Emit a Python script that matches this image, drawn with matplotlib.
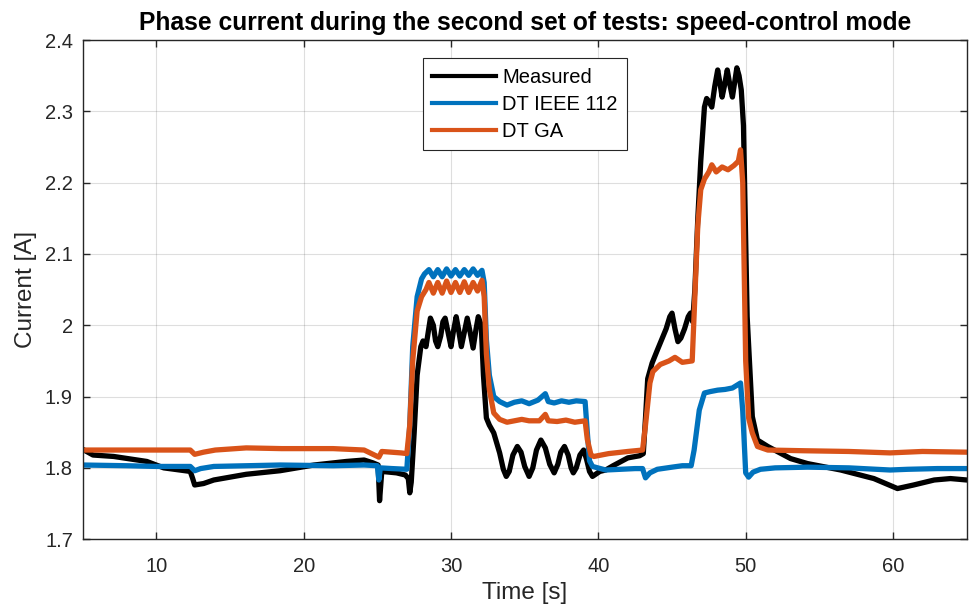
import matplotlib
matplotlib.use("Agg")
import matplotlib.pyplot as plt

# ---------------- data ----------------
meas_t = [5.0, 5.7, 7.1, 9.35, 10.5, 12.3, 12.45, 12.6, 13.2, 13.9, 16.1, 18.4,
          20.7, 22.9, 24.1, 24.7, 25.05, 25.15, 25.3, 26.3, 26.9, 27.1, 27.2,
          27.3, 27.5, 27.7, 27.95, 28.1, 28.3, 28.45, 28.6, 28.8, 28.95, 29.1,
          29.3, 29.45, 29.6, 29.8, 30.0, 30.15, 30.35, 30.5, 30.7, 30.9, 31.1,
          31.3, 31.5, 31.7, 31.85, 32.05, 32.2, 32.4, 32.6, 32.9, 33.3, 33.55,
          33.75, 33.95, 34.2, 34.5, 34.75, 35.0, 35.3, 35.55, 35.8, 36.1, 36.4,
          36.7, 37.0, 37.25, 37.45, 37.7, 37.95, 38.15, 38.3, 38.5, 38.75, 39.0,
          39.2, 39.4, 39.6, 40.1, 40.5, 41.0, 42.0, 42.8, 43.05, 43.2, 43.35,
          43.65, 44.0, 44.3, 44.6, 44.85, 45.0, 45.2, 45.4, 45.6, 45.85, 46.1,
          46.25, 46.4, 46.55, 46.75, 46.95, 47.2, 47.35, 47.5, 47.7, 47.9, 48.1,
          48.25, 48.4, 48.55, 48.75, 48.9, 49.1, 49.25, 49.4, 49.55, 49.7, 49.85,
          50.1, 50.45, 50.8, 51.5, 53.05, 54.2, 56.45, 58.7, 60.3, 61.4, 62.8,
          63.9, 65.0]
meas_i = [1.826, 1.818, 1.816, 1.809, 1.800, 1.795, 1.786, 1.776, 1.778, 1.783,
          1.791, 1.796, 1.804, 1.809, 1.811, 1.807, 1.804, 1.754, 1.795, 1.793,
          1.790, 1.785, 1.765, 1.780, 1.850, 1.930, 1.970, 1.978, 1.970, 1.990,
          2.010, 2.000, 1.978, 1.970, 1.985, 2.005, 2.010, 1.990, 1.970, 1.990,
          2.012, 1.995, 1.970, 1.990, 2.010, 1.990, 1.968, 1.995, 2.012, 2.000,
          1.930, 1.870, 1.860, 1.849, 1.821, 1.798, 1.788, 1.795, 1.818, 1.830,
          1.822, 1.802, 1.788, 1.800, 1.825, 1.839, 1.828, 1.805, 1.793, 1.805,
          1.822, 1.830, 1.818, 1.800, 1.793, 1.800, 1.818, 1.825, 1.812, 1.795,
          1.788, 1.795, 1.797, 1.803, 1.814, 1.817, 1.820, 1.870, 1.925, 1.947,
          1.965, 1.980, 1.995, 2.012, 2.017, 1.995, 1.977, 1.982, 1.995, 2.012,
          2.017, 2.005, 2.050, 2.150, 2.230, 2.306, 2.318, 2.314, 2.306, 2.335,
          2.358, 2.340, 2.320, 2.335, 2.358, 2.340, 2.320, 2.340, 2.361, 2.350,
          2.330, 2.280, 2.012, 1.872, 1.839, 1.830, 1.813, 1.806, 1.797, 1.785,
          1.771, 1.776, 1.783, 1.785, 1.783]

ieee_t = [5.0, 8.0, 10.0, 12.3, 12.6, 13.0, 13.9, 18.4, 22.0, 24.1, 25.0, 25.1,
          25.2, 26.0, 27.0, 27.2, 27.4, 27.7, 28.0, 28.2, 28.5, 28.8, 29.1, 29.4,
          29.7, 30.0, 30.3, 30.6, 30.9, 31.2, 31.5, 31.8, 32.1, 32.25, 32.4,
          32.6, 32.9, 33.3, 33.8, 34.3, 34.8, 35.3, 35.9, 36.4, 36.6, 37.0,
          37.5, 38.0, 38.5, 39.1, 39.25, 39.4, 39.6, 40.5, 41.5, 42.5, 43.0,
          43.2, 43.5, 44.0, 45.0, 45.7, 46.3, 46.5, 46.85, 47.2, 47.6, 48.1,
          48.6, 49.1, 49.65, 49.8, 50.0, 50.2, 50.5, 51.0, 52.0, 54.2, 57.0,
          59.8, 61.0, 63.0, 65.0]
ieee_i = [1.804, 1.803, 1.802, 1.802, 1.796, 1.799, 1.802, 1.804, 1.803, 1.804,
          1.803, 1.783, 1.800, 1.799, 1.798, 1.860, 1.970, 2.040, 2.065, 2.072,
          2.078, 2.068, 2.078, 2.068, 2.079, 2.069, 2.078, 2.069, 2.078, 2.070,
          2.079, 2.070, 2.077, 2.060, 1.980, 1.930, 1.900, 1.893, 1.888, 1.892,
          1.894, 1.890, 1.895, 1.904, 1.893, 1.891, 1.894, 1.892, 1.894, 1.893,
          1.850, 1.810, 1.802, 1.797, 1.798, 1.799, 1.799, 1.786, 1.793, 1.798,
          1.801, 1.803, 1.803, 1.825, 1.881, 1.905, 1.907, 1.909, 1.910, 1.912,
          1.919, 1.880, 1.793, 1.787, 1.794, 1.798, 1.800, 1.801, 1.800, 1.797,
          1.798, 1.799, 1.799]

ga_t = [5.0, 8.0, 10.0, 12.3, 12.6, 13.2, 14.0, 16.1, 18.5, 20.6, 22.0, 24.1,
        25.1, 25.3, 26.6, 27.0, 27.2, 27.4, 27.7, 28.0, 28.3, 28.5, 28.8, 29.1,
        29.4, 29.7, 30.0, 30.3, 30.6, 30.9, 31.2, 31.5, 31.8, 32.1, 32.25, 32.4,
        32.6, 32.9, 33.3, 33.8, 34.3, 34.8, 35.3, 36.0, 36.4, 36.6, 37.2, 37.8,
        38.4, 39.1, 39.25, 39.5, 39.7, 40.7, 42.0, 43.0, 43.2, 43.5, 43.7, 44.2,
        44.8, 45.2, 45.7, 46.37, 46.55, 46.75, 46.95, 47.2, 47.5, 47.7, 48.0,
        48.4, 48.8, 49.2, 49.5, 49.65, 49.8, 50.0, 50.2, 50.45, 50.8, 51.5, 54.0,
        57.0, 59.8, 62.0, 65.0]
ga_i = [1.825, 1.825, 1.825, 1.825, 1.819, 1.822, 1.825, 1.828, 1.827, 1.827,
        1.827, 1.825, 1.815, 1.823, 1.821, 1.820, 1.860, 1.950, 2.020, 2.040,
        2.050, 2.060, 2.045, 2.060, 2.045, 2.062, 2.046, 2.060, 2.046, 2.061,
        2.046, 2.060, 2.048, 2.063, 2.040, 1.960, 1.910, 1.877, 1.868, 1.864,
        1.866, 1.868, 1.866, 1.866, 1.875, 1.866, 1.865, 1.867, 1.864, 1.866,
        1.840, 1.818, 1.816, 1.820, 1.823, 1.825, 1.860, 1.919, 1.935, 1.945,
        1.950, 1.955, 1.948, 1.950, 2.040, 2.140, 2.190, 2.205, 2.215, 2.225,
        2.215, 2.222, 2.218, 2.224, 2.230, 2.246, 2.200, 1.950, 1.870, 1.849,
        1.830, 1.825, 1.824, 1.823, 1.821, 1.823, 1.822]

labels = ["Measured", "DT IEEE 112", "DT GA"]
colors = ["#000000", "#0072BD", "#D95319"]

x_ticks = [10, 20, 30, 40, 50, 60]
y_ticks = [1.7, 1.8, 1.9, 2.0, 2.1, 2.2, 2.3, 2.4]
y_ticklabels = ["1.7", "1.8", "1.9", "2", "2.1", "2.2", "2.3", "2.4"]

# ---------------- figure ----------------
plt.rcParams['font.family'] = ['Liberation Sans', 'DejaVu Sans']
axc = "#262626"

fig = plt.figure(figsize=(9.73, 6.12), dpi=100)
ax = fig.add_axes([0.085, 0.119, 0.9085, 0.8156])

series = [(meas_t, meas_i), (ieee_t, ieee_i), (ga_t, ga_i)]
for (t, i), lab, c in zip(series, labels, colors):
    ax.plot(t, i, color=c, lw=3.8, label=lab, solid_joinstyle='round')

ax.set_xlim(5, 65)
ax.set_ylim(1.7, 2.4)
ax.set_xticks(x_ticks)
ax.set_yticks(y_ticks)
ax.set_yticklabels(y_ticklabels)
ax.grid(True, color=axc, alpha=0.15, lw=0.8)
ax.set_axisbelow(True)

ax.tick_params(direction='in', length=5, width=1.0, colors=axc,
               labelsize=14.5, top=True, right=True, pad=7)
ax.tick_params(axis='x', pad=13)
for s in ax.spines.values():
    s.set_color(axc)
    s.set_linewidth(1.0)

ax.set_xlabel("Time [s]", fontsize=17.5, color=axc, labelpad=4)
ax.set_ylabel("Current [A]", fontsize=17.5, color=axc, labelpad=6)
ax.set_title("Phase current during the second set of tests: speed-control mode",
             fontsize=17.7, fontweight='bold', color='black', pad=7)

leg = ax.legend(loc='upper left', bbox_to_anchor=(0.3846, 0.963),
                borderaxespad=0, fontsize=14.5, frameon=True, fancybox=False,
                edgecolor=axc, framealpha=1, handlelength=3.2, handletextpad=0.3,
                labelspacing=0.4, borderpad=0.45)
for h in leg.get_lines():
    h.set_linewidth(3)
leg.get_frame().set_linewidth(0.8)

fig.savefig("out.png", dpi=100)
